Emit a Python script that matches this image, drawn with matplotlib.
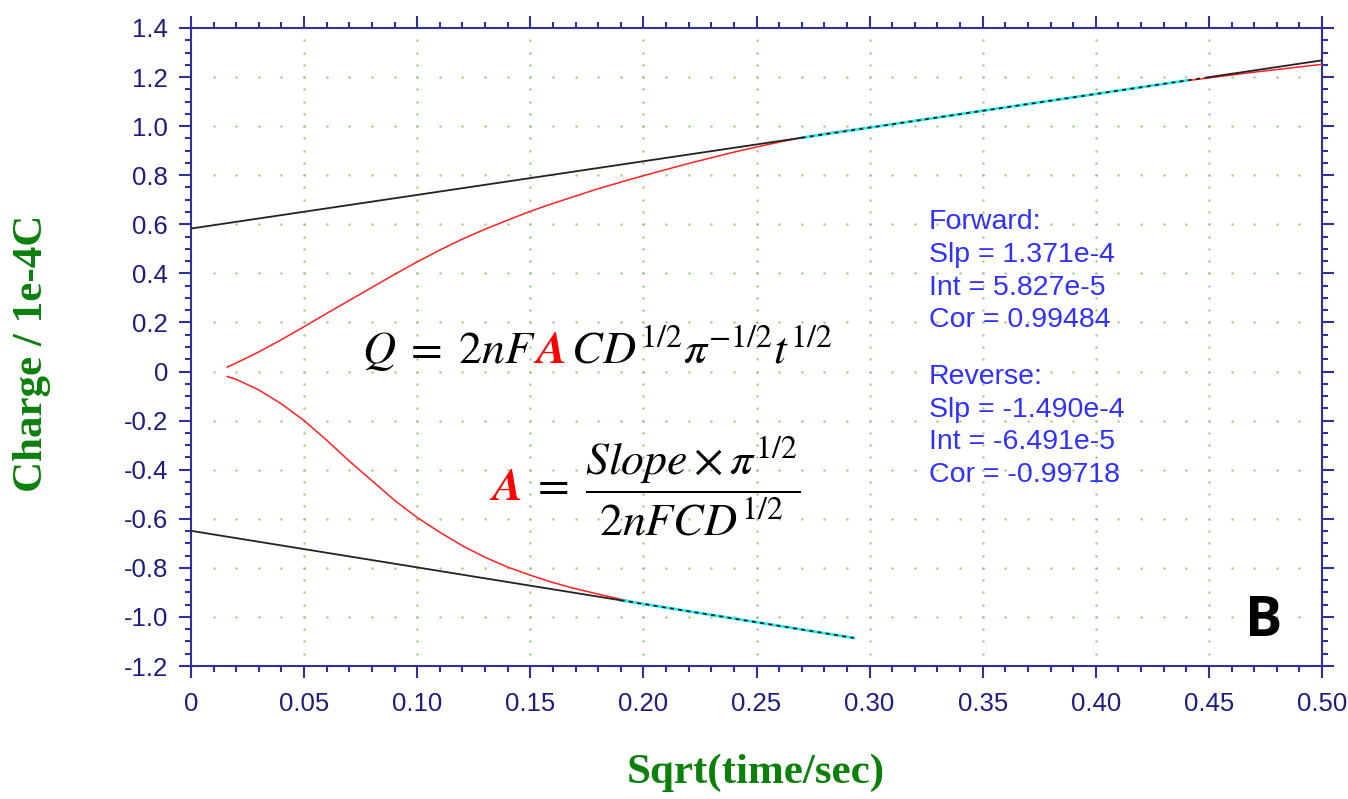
#!/usr/bin/env python3
"""Anson plot: charge vs sqrt(time) with forward / reverse linear fits."""

import numpy as np
import matplotlib.pyplot as plt
from matplotlib.ticker import FixedLocator, MultipleLocator

# forward step (charge in 1e-4 C vs sqrt(t / s))
fwd_x = [0.016, 0.02, 0.03, 0.04, 0.05, 0.06, 0.07, 0.08, 0.09, 0.10,
         0.11, 0.12, 0.13, 0.14, 0.15, 0.16, 0.17, 0.18, 0.19, 0.20,
         0.21, 0.22, 0.23, 0.24, 0.25, 0.26, 0.27, 0.28, 0.29, 0.30,
         0.33, 0.36, 0.40, 0.44, 0.47, 0.50]
fwd_q = [0.018, 0.035, 0.08, 0.13, 0.183, 0.237, 0.29, 0.343, 0.396, 0.447,
         0.495, 0.54, 0.58, 0.617, 0.653, 0.685, 0.715, 0.745, 0.772, 0.798,
         0.823, 0.848, 0.871, 0.894, 0.915, 0.935, 0.953, 0.97, 0.983, 0.995,
         1.037, 1.077, 1.132, 1.185, 1.22, 1.252]

# reverse step
rev_x = [0.016, 0.02, 0.03, 0.04, 0.05, 0.06, 0.07, 0.08, 0.09, 0.10,
         0.11, 0.12, 0.13, 0.14, 0.15, 0.16, 0.17, 0.18, 0.19, 0.20,
         0.22, 0.24, 0.26, 0.28, 0.293]
rev_q = [-0.02, -0.032, -0.075, -0.132, -0.20, -0.28, -0.365, -0.445, -0.525, -0.595,
         -0.655, -0.71, -0.757, -0.797, -0.83, -0.86, -0.885, -0.907, -0.928, -0.946,
         -0.977, -1.006, -1.036, -1.066, -1.085]

# linear fits (slope and intercept in 1e-4 units)
fwd_slope, fwd_int, fwd_cor = 1.371, 0.5827, 0.99484
rev_slope, rev_int, rev_cor = -1.490, -0.6491, -0.99718
fwd_fit = (0.27, 0.45)
rev_fit = (0.19, 0.293)

x_ticks = [0, 0.05, 0.10, 0.15, 0.20, 0.25, 0.30, 0.35, 0.40, 0.45, 0.50]
x_labels = ["0", "0.05", "0.10", "0.15", "0.20", "0.25", "0.30", "0.35",
            "0.40", "0.45", "0.50"]
y_ticks = [-1.2, -1.0, -0.8, -0.6, -0.4, -0.2, 0, 0.2, 0.4, 0.6, 0.8, 1.0, 1.2, 1.4]
y_labels = ["-1.2", "-1.0", "-0.8", "-0.6", "-0.4", "-0.2", "0", "0.2", "0.4",
            "0.6", "0.8", "1.0", "1.2", "1.4"]

AXIS_BLUE = "#30309a"
LABEL_NAVY = "#1c1c82"
GREEN = "#0b800b"
GRID_GREEN = "#9cc67e"


def chain_text(ax, renderer, x, y, pieces, size):
    """Draw text pieces one after another on a shared baseline."""
    for s, color, kw in pieces:
        t = ax.text(x, y, s, color=color, fontsize=size, ha="left",
                    va="baseline", **kw)
        bb = t.get_window_extent(renderer)
        x = ax.transData.inverted().transform((bb.x1, bb.y0))[0]


def main():
    plt.rcParams["font.family"] = ["Liberation Sans", "DejaVu Sans"]
    plt.rcParams["mathtext.fontset"] = "stix"

    fig = plt.figure(figsize=(13.48, 7.99), dpi=100)
    ax = fig.add_axes([191 / 1348, 1 - 666 / 799, 1131 / 1348, 638 / 799])
    ax.set_xlim(0, 0.5)
    ax.set_ylim(-1.2, 1.4)

    # dotted grid: dots at minor positions along major lines
    minor_x = np.arange(0.01, 0.495, 0.01)
    minor_y = np.arange(-1.15, 1.395, 0.05)
    for gx in x_ticks[1:-1]:
        ax.plot(np.full_like(minor_y, gx), minor_y, ls="none", marker="o",
                ms=1.7, mew=0, color=GRID_GREEN, zorder=1)
    for gy in y_ticks[1:-1]:
        ax.plot(minor_x, np.full_like(minor_x, gy), ls="none", marker="o",
                ms=1.7, mew=0, color=GRID_GREEN, zorder=1)

    fx = np.array(fwd_x)
    fq = np.array(fwd_q)
    rx = np.array(rev_x)
    rq = np.array(rev_q)

    ax.plot(fx, fq, color="#ff2020", lw=1.1, zorder=3)
    ax.plot(rx, rq, color="#ff2020", lw=1.1, zorder=3)

    # fitted region highlighted
    m = (fx >= fwd_fit[0]) & (fx <= fwd_fit[1])
    ax.plot(fx[m], fwd_int + fwd_slope * fx[m], color="#20f0f8", lw=2.0, zorder=4)
    m = (rx >= rev_fit[0]) & (rx <= rev_fit[1])
    ax.plot(rx[m], rev_int + rev_slope * rx[m], color="#20f0f8", lw=2.0, zorder=4)

    # fit lines
    dash = (0, (2.2, 2.4))
    lx = np.array([0, fwd_fit[0]])
    ax.plot(lx, fwd_int + fwd_slope * lx, color="#222222", lw=1.3, zorder=5)
    lx = np.array(fwd_fit)
    ax.plot(lx, fwd_int + fwd_slope * lx, color="#222222", lw=1.3,
            ls=dash, zorder=5)
    lx = np.array([fwd_fit[1], 0.5])
    ax.plot(lx, fwd_int + fwd_slope * lx, color="#222222", lw=1.3, zorder=5)

    lx = np.array([0, rev_fit[0]])
    ax.plot(lx, rev_int + rev_slope * lx, color="#222222", lw=1.3, zorder=5)
    lx = np.array(rev_fit)
    ax.plot(lx, rev_int + rev_slope * lx, color="#222222", lw=1.3,
            ls=dash, zorder=5)

    # axes styling
    for sp in ax.spines.values():
        sp.set_color(AXIS_BLUE)
        sp.set_linewidth(1.5)
    ax.xaxis.set_major_locator(FixedLocator(x_ticks))
    ax.set_xticklabels(x_labels)
    ax.yaxis.set_major_locator(FixedLocator(y_ticks))
    ax.set_yticklabels(y_labels)
    ax.xaxis.set_minor_locator(MultipleLocator(0.01))
    ax.yaxis.set_minor_locator(MultipleLocator(0.05))
    ax.tick_params(which="both", direction="out", color=AXIS_BLUE, width=1.5,
                   top=True, right=True)
    ax.tick_params(which="major", length=8.5, labelsize=18.5, labelcolor=LABEL_NAVY)
    ax.tick_params(which="minor", length=4.5)
    ax.tick_params(axis="y", pad=8)
    ax.tick_params(axis="x", pad=10)

    fig.text(32 / 1348, 1 - 353 / 799, "Charge / 1e-4C", rotation=90,
             ha="center", va="center", color=GREEN, fontsize=31,
             fontweight="bold", family="Liberation Serif")
    fig.text(756 / 1348, 1 - 773 / 799, "Sqrt(time/sec)", ha="center",
             va="center", color=GREEN, fontsize=31, fontweight="bold",
             family="Liberation Serif")

    # fit summary (baseline of the last line is the anchor)
    fwd_txt = "\n".join([
        "Forward:",
        f"Slp = {fwd_slope:.3f}e-4",
        f"Int = {fwd_int * 10:.3f}e-5",
        f"Cor = {fwd_cor:.5f}",
    ])
    rev_txt = "\n".join([
        "Reverse:",
        f"Slp = {rev_slope:.3f}e-4",
        f"Int = {rev_int * 10:.3f}e-5",
        f"Cor = {rev_cor:.5f}",
    ])
    ax.text(0.3263, 0.181, fwd_txt, color="#3030ff", fontsize=20.5,
            va="baseline", ha="left", linespacing=1.33, zorder=6)
    ax.text(0.3263, -0.450, rev_txt, color="#3030ff", fontsize=20.5,
            va="baseline", ha="left", linespacing=1.33, zorder=6)

    ax.text(0.474, -1.02, "B", fontsize=40, fontweight="bold",
            family="Open Sans", ha="center", va="center", color="black", zorder=6)

    # Anson equation and area expression
    fig.canvas.draw()
    renderer = fig.canvas.get_renderer()
    bold_a = {"family": "STIXGeneral", "style": "italic", "fontweight": "bold"}
    chain_text(ax, renderer, 0.0756, 0.035, [
        (r"$Q\;=\;2nF\,$", "black", {}),
        ("A", "#ff0000", bold_a),
        (r"$\,CD^{1/2}\pi^{-1/2}t^{1/2}$", "black", {}),
    ], 33)
    chain_text(ax, renderer, 0.133, -0.524, [
        ("A", "#ff0000", bold_a),
        (r"$\;=\;\dfrac{Slope\times\pi^{1/2}}{2nFCD^{1/2}}$", "black", {}),
    ], 33)

    fig.savefig("out.png", dpi=100, facecolor="white")


if __name__ == "__main__":
    main()
